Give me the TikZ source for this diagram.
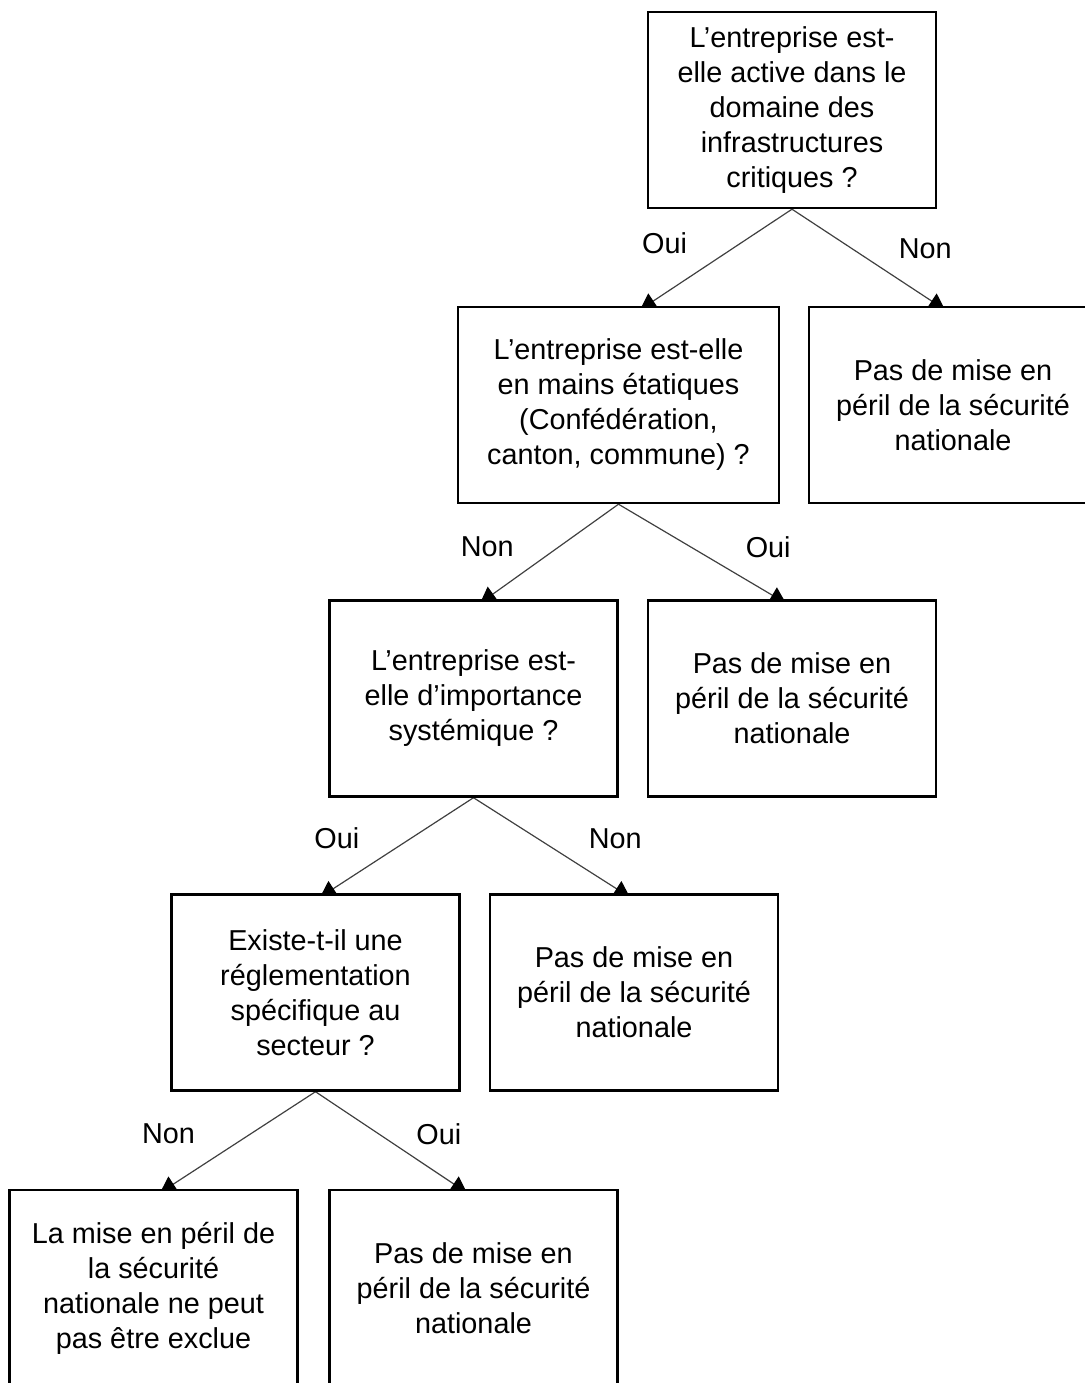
\documentclass[tikz,border=0pt]{standalone}
\usepackage{fontspec}
\setmainfont{Liberation Sans}
\usetikzlibrary{arrows.meta,calc,backgrounds}

\begin{document}
\begin{tikzpicture}[x=0.5pt, y=-0.5pt,
    box/.style={draw, line width=1.2pt, fill=white, align=center,
      minimum width=144pt, minimum height=98pt, inner sep=0pt,
      font=\fontsize{14.4pt}{17.5pt}\selectfont},
    link/.style={draw=black!75, line width=0.6pt,
      -{Triangle[width=9pt,length=8pt,color=black]}},
    lbl/.style={font=\fontsize{14.4pt}{17.5pt}\selectfont}]
  \useasboundingbox (0,0) rectangle (1085,1383);
  \clip (0,0) rectangle (1085,1383);

  % questions
  \node[box] (q1) at (792,110) {L’entreprise est-\\elle active dans le\\domaine des\\infrastructures\\critiques ?};
  \node[box, minimum width=160.5pt] (q2) at (618.5,405) {L’entreprise est-elle\\en mains étatiques\\(Confédération,\\canton, commune) ?};
  \node[box] (q3) at (473.5,698.5) {L’entreprise est-\\elle d’importance\\systémique ?};
  \node[box] (q4) at (315.5,992.5) {Existe-t-il une\\réglementation\\spécifique au\\secteur ?};

  % answers
  \node[box] (r1) at (953,405) {Pas de mise en\\péril de la sécurité\\nationale};
  \node[box] (r2) at (792,698.5) {Pas de mise en\\péril de la sécurité\\nationale};
  \node[box] (r3) at (634,992.5) {Pas de mise en\\péril de la sécurité\\nationale};
  \node[box] (r4) at (153.5,1288) {La mise en péril de\\la sécurité\\nationale ne peut\\pas être exclue};
  \node[box] (r5) at (473.5,1288) {Pas de mise en\\péril de la sécurité\\nationale};

  \begin{scope}[on background layer]
    \draw[link] (q1.south) -- node[lbl, pos=.34, left=23pt] {Oui} ($(q1.south |- q2.north)+(-152,4)$);
    \draw[link] (q1.south) -- node[lbl, pos=.39, right=20pt] {Non} ($(q1.south |- r1.north)+(153,4)$);
    \draw[link] (q2.south) -- node[lbl, pos=.43, left=19pt] {Non} ($(q2.south |- q3.north)+(-138.5,4)$);
    \draw[link] (q2.south) -- node[lbl, pos=.43, right=24pt] {Oui} ($(q2.south |- r2.north)+(167.5,4)$);
    \draw[link] (q3.south) -- node[lbl, pos=.41, left=22pt] {Oui} ($(q3.south |- q4.north)+(-153.5,4)$);
    \draw[link] (q3.south) -- node[lbl, pos=.41, right=22pt] {Non} ($(q3.south |- r3.north)+(156.5,4)$);
    \draw[link] (q4.south) -- node[lbl, pos=.42, left=24pt] {Non} ($(q4.south |- r4.north)+(-155.5,4)$);
    \draw[link] (q4.south) -- node[lbl, pos=.42, right=15pt] {Oui} ($(q4.south |- r5.north)+(151.5,4)$);
  \end{scope}
\end{tikzpicture}
\end{document}
